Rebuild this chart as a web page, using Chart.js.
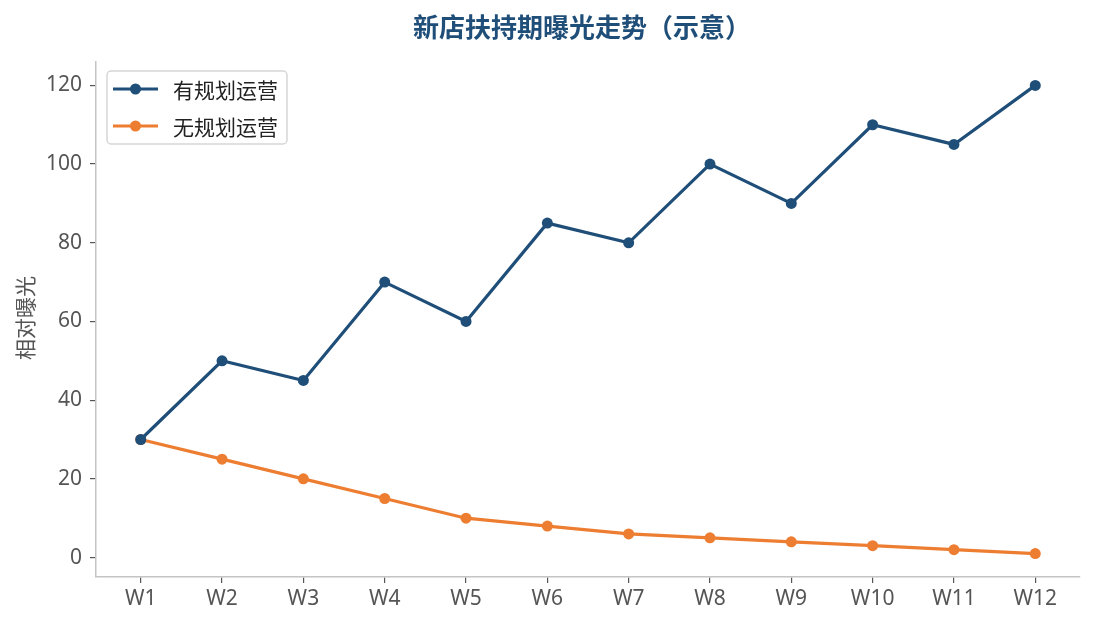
<!DOCTYPE html>
<html>
<head>
<meta charset="utf-8">
<script src="https://cdn.jsdelivr.net/npm/chart.js@4.4.1/dist/chart.umd.min.js"></script>
<style>
  html, body { margin: 0; padding: 0; background: #fff; }
  #wrap { width: 1095px; height: 629px; }
</style>
</head>
<body>
<div id="wrap"><canvas id="chart" width="1095" height="629"></canvas></div>
<script>
// datos
const weeks = ["W1","W2","W3","W4","W5","W6","W7","W8","W9","W10","W11","W12"];
const planned = [30, 50, 45, 70, 60, 85, 80, 100, 90, 110, 105, 120];
const unplanned = [30, 25, 20, 15, 10, 8, 6, 5, 4, 3, 2, 1];
const yTicks = [0, 20, 40, 60, 80, 100, 120];
const seriesNames = ["有规划运营", "无规划运营"];

const FONT = "'Noto Sans CJK SC', 'Noto Sans', sans-serif";
const TICK_FONT = "'Noto Sans', 'Noto Sans CJK SC', sans-serif";
const BLUE = '#1f4e79';
const ORANGE = '#ed7d31';

// texto del titulo, eje y y leyenda
const extras = {
    id: 'extras',
    afterDraw(chart) {
        const ctx = chart.ctx;
        ctx.save();
        // titulo
        ctx.fillStyle = BLUE;
        ctx.font = "bold 26px " + FONT;
        ctx.textAlign = 'center';
        ctx.textBaseline = 'middle';
        ctx.fillText("新店扶持期曝光走势（示意）", 582, 27);
        // eje y
        ctx.save();
        ctx.translate(25, 318);
        ctx.rotate(-Math.PI / 2);
        ctx.fillStyle = '#555';
        ctx.font = "21px " + FONT;
        ctx.fillText("相对曝光", 0, 0);
        ctx.restore();
        // leyenda
        const bx = 107, by = 71, bw = 180, bh = 73;
        ctx.fillStyle = 'rgba(255,255,255,0.85)';
        ctx.strokeStyle = '#d6d6d6';
        ctx.lineWidth = 1.5;
        ctx.beginPath();
        ctx.roundRect(bx, by, bw, bh, 4);
        ctx.fill();
        ctx.stroke();
        chart.data.datasets.forEach((ds, i) => {
            const y = by + 18 + i * 37;
            ctx.strokeStyle = ds.borderColor;
            ctx.lineWidth = 3.2;
            ctx.beginPath();
            ctx.moveTo(113, y);
            ctx.lineTo(158, y);
            ctx.stroke();
            ctx.fillStyle = ds.borderColor;
            ctx.beginPath();
            ctx.arc(135.5, y, 5.5, 0, Math.PI * 2);
            ctx.fill();
            ctx.fillStyle = '#222';
            ctx.font = "21px " + FONT;
            ctx.textAlign = 'left';
            ctx.fillText(ds.label, 173, y + 1);
        });
        ctx.restore();
    }
};

new Chart(document.getElementById('chart'), {
    type: 'line',
    plugins: [extras],
    data: {
        datasets: [
            {
                label: seriesNames[0],
                data: planned.map((v, i) => ({ x: i, y: v })),
                borderColor: BLUE,
                backgroundColor: BLUE,
                borderWidth: 3.2,
                pointRadius: 5.5,
                pointBorderWidth: 0,
                tension: 0
            },
            {
                label: seriesNames[1],
                data: unplanned.map((v, i) => ({ x: i, y: v })),
                borderColor: ORANGE,
                backgroundColor: ORANGE,
                borderWidth: 3.2,
                pointRadius: 5.5,
                pointBorderWidth: 0,
                tension: 0
            }
        ]
    },
    options: {
        responsive: false,
        animation: false,
        devicePixelRatio: 1,
        layout: { padding: { left: 0, right: 15, top: 62, bottom: 0 } },
        plugins: {
            legend: { display: false },
            title: { display: false },
            tooltip: { enabled: false }
        },
        scales: {
            x: {
                type: 'linear',
                min: -0.55,
                max: 11.55,
                afterBuildTicks: (scale) => { scale.ticks = weeks.map((_, i) => ({ value: i })); },
                afterFit: (scale) => { scale.height = 52; },
                ticks: {
                    callback: (v) => weeks[v],
                    color: '#555',
                    font: { family: TICK_FONT, size: 21 },
                    padding: 3,
                    maxRotation: 0,
                    autoSkip: false
                },
                grid: { drawOnChartArea: false, drawTicks: true, tickLength: 6, color: '#555', lineWidth: 1.2 },
                border: { color: '#c4c4c4', width: 1.5 }
            },
            y: {
                min: -4.95,
                max: 125.95,
                afterBuildTicks: (scale) => { scale.ticks = yTicks.map(v => ({ value: v })); },
                afterFit: (scale) => { scale.width = 96; },
                ticks: {
                    color: '#555',
                    font: { family: TICK_FONT, size: 21 },
                    padding: 8
                },
                grid: { drawOnChartArea: false, drawTicks: true, tickLength: 6, color: '#555', lineWidth: 1.2 },
                border: { color: '#c4c4c4', width: 1.5 }
            }
        }
    }
});
</script>
</body>
</html>
